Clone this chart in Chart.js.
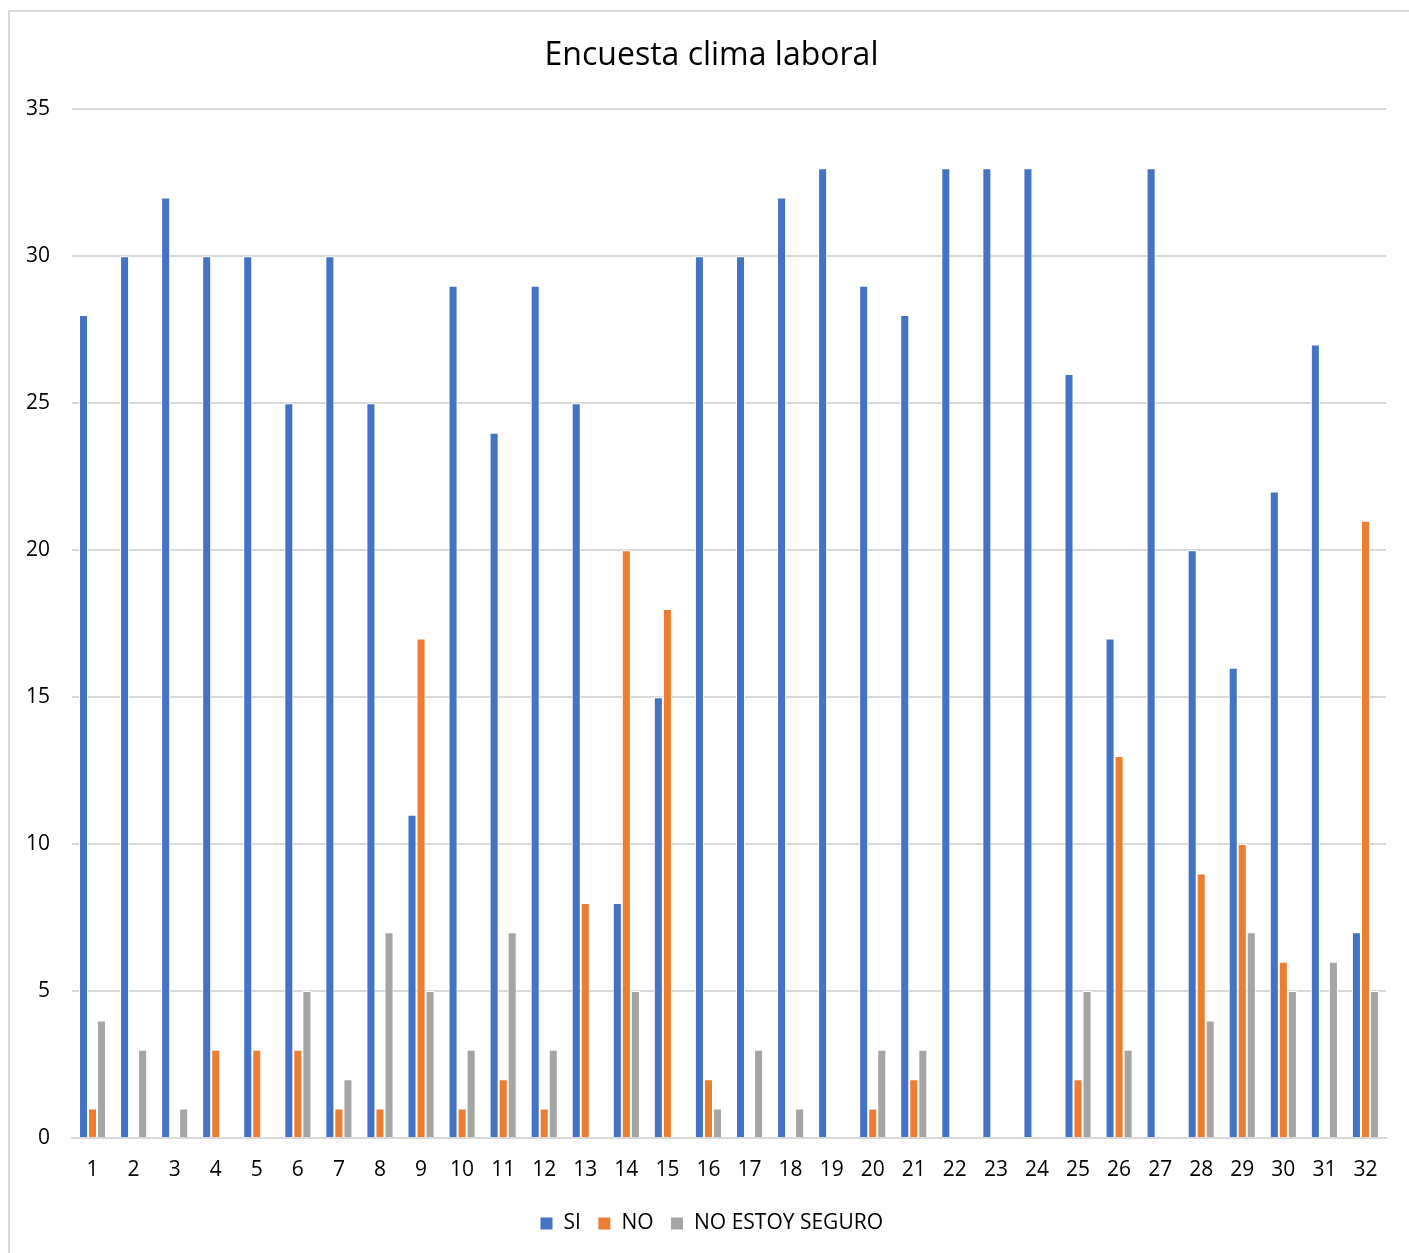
<!DOCTYPE html>
<html>
<head>
<meta charset="utf-8">
<script src="https://cdn.jsdelivr.net/npm/chart.js@4.4.1/dist/chart.umd.min.js"></script>
<style>
  html, body { margin: 0; padding: 0; background: #fff; overflow: hidden; }
  #wrap { position: absolute; left: 0; top: 0; width: 1409px; height: 1253px; }
  #frame { position: absolute; left: 8px; top: 10px; width: 1420px; height: 1260px;
           border: 2px solid #d9d9d9; pointer-events: none; box-sizing: border-box; }
</style>
</head>
<body>
<div id="wrap"><canvas id="c" width="1409" height="1253"></canvas></div>
<div id="frame"></div>
<script>
// Survey questions 1..32 and answer counts per option
const categories = ['1','2','3','4','5','6','7','8','9','10','11','12','13','14','15','16',
                    '17','18','19','20','21','22','23','24','25','26','27','28','29','30','31','32'];
const siValues   = [28,30,32,30,30,25,30,25,11,29,24,29,25, 8,15,30,30,32,33,29,28,33,33,33,26,17,33,20,16,22,27, 7];
const noValues   = [ 1, 0, 0, 3, 3, 3, 1, 1,17, 1, 2, 1, 8,20,18, 2, 0, 0, 0, 1, 2, 0, 0, 0, 2,13, 0, 9,10, 6, 0,21];
const nseValues  = [ 4, 3, 1, 0, 0, 5, 2, 7, 5, 3, 7, 3, 0, 5, 0, 1, 3, 1, 0, 3, 3, 0, 0, 0, 5, 3, 0, 4, 7, 5, 6, 5];
const seriesNames = ['SI', 'NO', 'NO ESTOY SEGURO'];
const seriesColors = ['#4472C4', '#ED7D31', '#A5A5A5'];

const FONT = "'Open Sans', 'Liberation Sans', sans-serif";
Chart.defaults.font.family = FONT;
Chart.defaults.color = '#000';

const makeSet = (i, data) => ({
  label: seriesNames[i],
  data: data,
  backgroundColor: seriesColors[i],
  borderColor: '#ffffff',
  borderWidth: 1,
  borderSkipped: 'bottom',
  categoryPercentage: 0.66,
  barPercentage: 1.0
});

new Chart(document.getElementById('c'), {
  type: 'bar',
  data: {
    labels: categories,
    datasets: [makeSet(0, siValues), makeSet(1, noValues), makeSet(2, nseValues)]
  },
  options: {
    responsive: false,
    animation: false,
    layout: { padding: { left: 14, right: 0, top: 0, bottom: 9 } },
    plugins: {
      title: {
        display: true,
        text: 'Encuesta clima laboral',
        font: { size: 32, weight: 'normal', family: FONT },
        color: '#000',
        padding: { top: 37, bottom: 34 }
      },
      legend: {
        position: 'bottom',
        labels: {
          boxWidth: 13,
          boxHeight: 13,
          padding: 17,
          font: { size: 21 },
          color: '#000'
        }
      },
      tooltip: { enabled: false }
    },
    scales: {
      x: {
        grid: { display: false, drawTicks: false },
        border: { display: true, color: '#d9d9d9', width: 2 },
        ticks: { font: { size: 21 }, padding: 19, maxRotation: 0, autoSkip: false },
        afterFit: s => { s.height = 58; }
      },
      y: {
        min: 0, max: 35,
        grid: { color: '#d9d9d9', lineWidth: 2, drawTicks: false },
        border: { display: false },
        ticks: { stepSize: 5, font: { size: 21 }, padding: 22 },
        afterFit: s => { s.width = 58; }
      },
      // empty right-hand margin strip
      yRight: {
        position: 'right',
        min: 0, max: 35,
        grid: { display: false, drawTicks: false },
        border: { display: false },
        ticks: { display: false },
        afterFit: s => { s.width = 23; }
      }
    }
  }
});
</script>
</body>
</html>
